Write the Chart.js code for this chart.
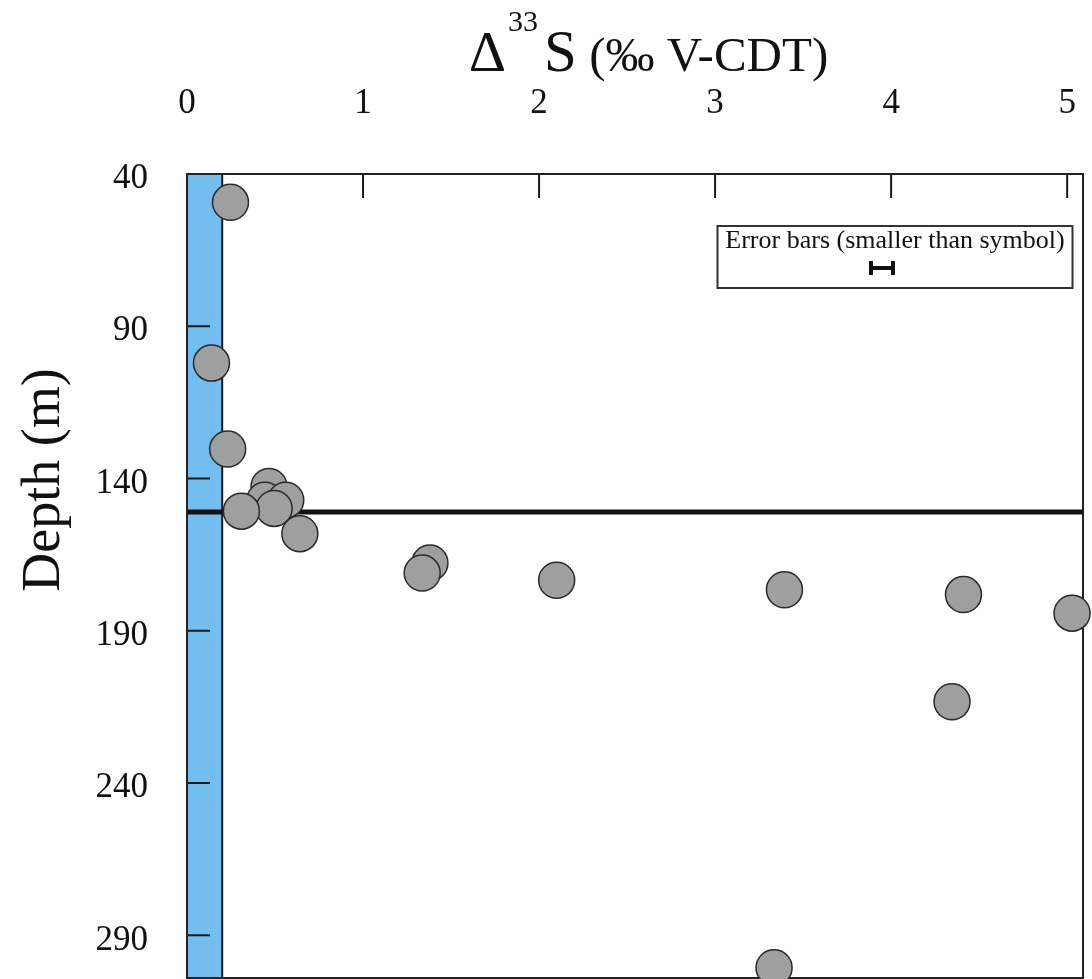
<!DOCTYPE html>
<html>
<head>
<meta charset="utf-8">
<script src="https://cdn.jsdelivr.net/npm/chart.js@4.4.1/dist/chart.umd.min.js"></script>
<style>
html,body{margin:0;padding:0;background:#fff;}
#wrap{width:1092px;height:979px;}
</style>
</head>
<body>
<div id="wrap"><canvas id="c" width="1092" height="979"></canvas></div>
<script>
// ---- data ----
const depthM = [49.3, 102.1, 130.3, 142.6, 147.1, 147.1, 149.8, 150.7, 158.1, 167.7, 171.0, 173.4, 176.5, 178.1, 184.2, 213.3, 300.6];
const d33S   = [0.247, 0.139, 0.231, 0.466, 0.442, 0.561, 0.495, 0.309, 0.641, 1.380, 1.336, 2.100, 3.394, 4.411, 5.028, 4.346, 3.335];
const xTicks = [0, 1, 2, 3, 4, 5];
const yTicks = [40, 90, 140, 190, 240, 290];
const xRange = [0, 5.09];
const yRange = [40, 304];
const bandX = [0, 0.2];
const boundaryDepth = [151];
const yTitle = 'Depth (m)';
const xTitleParts = ['\u0394', '33', 'S', ' (\u2030 V-CDT)'];
const legendText = 'Error bars (smaller than symbol)';

const SERIF = '"Liberation Serif", "Times New Roman", serif';

const decor = {
  id: 'decor',
  beforeDraw(chart) {
    const ctx = chart.ctx;
    ctx.save();
    ctx.fillStyle = '#ffffff';
    ctx.fillRect(0, 0, chart.width, chart.height);
    ctx.restore();
  },
  beforeDatasetsDraw(chart) {
    const {ctx, chartArea: a, scales: {x, y}} = chart;
    ctx.save();
    // shaded band
    const bx0 = x.getPixelForValue(bandX[0]);
    const bx1 = x.getPixelForValue(bandX[1]);
    ctx.fillStyle = '#74bdf0';
    ctx.fillRect(bx0, a.top, bx1 - bx0, a.bottom - a.top);
    ctx.strokeStyle = '#1a1a1a';
    ctx.lineWidth = 2;
    ctx.beginPath();
    ctx.moveTo(bx1, a.top);
    ctx.lineTo(bx1, a.bottom);
    ctx.stroke();
    // inward ticks
    ctx.beginPath();
    xTicks.forEach(v => {
      const px = x.getPixelForValue(v);
      ctx.moveTo(px, a.top);
      ctx.lineTo(px, a.top + 24);
    });
    yTicks.forEach(v => {
      const py = y.getPixelForValue(v);
      ctx.moveTo(a.left, py);
      ctx.lineTo(a.left + 23, py);
    });
    ctx.stroke();
    // frame
    ctx.strokeStyle = '#222';
    ctx.strokeRect(a.left, a.top, a.right - a.left, a.bottom - a.top);
    // legend box
    const bw = 355, bh = 62;
    const bR = a.right - 10.5, bT = a.top + 52;
    const bL = bR - bw;
    ctx.fillStyle = '#ffffff';
    ctx.fillRect(bL, bT, bw, bh);
    ctx.strokeStyle = '#333';
    ctx.lineWidth = 2;
    ctx.strokeRect(bL, bT, bw, bh);
    ctx.fillStyle = '#111';
    ctx.font = '26px ' + SERIF;
    ctx.textAlign = 'center';
    ctx.textBaseline = 'alphabetic';
    ctx.fillText(legendText, bL + bw / 2, bT + 22);
    // error bar glyph
    const ex = bL + bw / 2 - 13, ey = bT + 42;
    ctx.strokeStyle = '#111';
    ctx.lineWidth = 4;
    ctx.beginPath();
    ctx.moveTo(ex - 11, ey); ctx.lineTo(ex + 11, ey);
    ctx.moveTo(ex - 11, ey - 7); ctx.lineTo(ex - 11, ey + 7);
    ctx.moveTo(ex + 11, ey - 7); ctx.lineTo(ex + 11, ey + 7);
    ctx.stroke();
    ctx.restore();
  },
  afterDraw(chart) {
    const {ctx, chartArea: a} = chart;
    ctx.save();
    ctx.fillStyle = '#111';
    ctx.textBaseline = 'alphabetic';
    ctx.textAlign = 'left';
    // x title with superscript
    const fonts = ['58px ' + SERIF, '30px ' + SERIF, '59px ' + SERIF, '49px ' + SERIF];
    const dy = [0, -40, 0, 0];
    const gaps = [2, 6, 0, 0];
    const widths = xTitleParts.map((t, i) => { ctx.font = fonts[i]; return ctx.measureText(t).width; });
    const total = widths.reduce((s, w, i) => s + w + gaps[i], 0);
    let cx = (a.left + a.right) / 2 + 13.5 - total / 2;
    const base = 71;
    xTitleParts.forEach((t, i) => {
      ctx.font = fonts[i];
      ctx.fillText(t, cx, base + dy[i]);
      cx += widths[i] + gaps[i];
    });
    // y title
    ctx.translate(59, 480);
    ctx.rotate(-Math.PI / 2);
    ctx.textAlign = 'center';
    ctx.font = '54px ' + SERIF;
    ctx.fillText(yTitle, 0, 0);
    ctx.restore();
  }
};

const points = d33S.map((v, i) => ({x: v, y: depthM[i]}));
const boundary = [{x: xRange[0], y: boundaryDepth[0]}, {x: xRange[1], y: boundaryDepth[0]}];

const zeroPad = s => { s.paddingLeft = 0; s.paddingRight = 0; s.paddingTop = 0; s.paddingBottom = 0; };

new Chart(document.getElementById('c'), {
  data: {
    datasets: [
      {
        type: 'scatter',
        label: 'Δ33S',
        data: points,
        backgroundColor: '#a09fa0',
        borderColor: '#2a2a2a',
        borderWidth: 1.5,
        pointRadius: 18,
        pointHoverRadius: 18,
        clip: false,
        order: 1
      },
      {
        type: 'line',
        label: 'boundary',
        data: boundary,
        borderColor: '#111',
        borderWidth: 5,
        pointRadius: 0,
        fill: false,
        order: 2
      }
    ]
  },
  options: {
    responsive: false,
    animation: false,
    devicePixelRatio: 1,
    layout: {autoPadding: false, padding: {left: 0, top: 0, right: 9, bottom: 1}},
    plugins: {legend: {display: false}, tooltip: {enabled: false}, title: {display: false}},
    events: [],
    scales: {
      x: {
        type: 'linear',
        position: 'top',
        min: xRange[0],
        max: xRange[1],
        grid: {display: false},
        border: {display: false},
        ticks: {font: {family: SERIF, size: 35}, color: '#111', padding: 41, maxRotation: 0, autoSkip: false},
        afterBuildTicks: s => { s.ticks = xTicks.map(v => ({value: v})); },
        afterFit: s => { s.height = 174; zeroPad(s); }
      },
      y: {
        type: 'linear',
        reverse: true,
        min: yRange[0],
        max: yRange[1],
        grid: {display: false},
        border: {display: false},
        ticks: {font: {family: SERIF, size: 35}, color: '#111', padding: 31, labelOffset: 5, autoSkip: false},
        afterBuildTicks: s => { s.ticks = yTicks.map(v => ({value: v})); },
        afterFit: s => { s.width = 187; zeroPad(s); }
      }
    }
  },
  plugins: [decor]
});
</script>
</body>
</html>
